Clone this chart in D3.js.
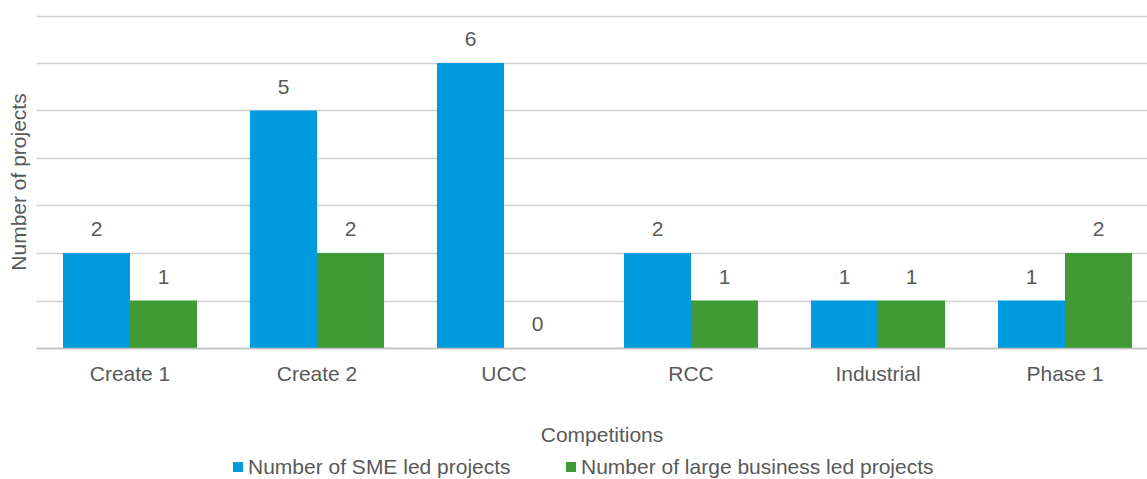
<!DOCTYPE html>
<html>
<head>
<meta charset="utf-8">
<script src="https://cdn.jsdelivr.net/npm/d3@7"></script>
<style>
  html, body { margin: 0; padding: 0; background: #fff; overflow: hidden; }
  svg { display: block; font-family: "Liberation Sans", Arial, sans-serif; }
</style>
</head>
<body>
<svg id="chart" width="1147" height="479"></svg>
<script>
// Projects per competition, split by lead organisation type
const categories = ["Create 1", "Create 2", "UCC", "RCC", "Industrial", "Phase 1"];
const smeLed = [2, 5, 6, 2, 1, 1];
const largeLed = [1, 2, 0, 1, 1, 2];
const seriesNames = ["Number of SME led projects", "Number of large business led projects"];
const seriesColors = ["#009ADE", "#3F9C35"];
const yTicks = [0, 1, 2, 3, 4, 5, 6, 7];

const svg = d3.select("#chart");
const textColor = "#595959";
const fontSize = 21;

// plot area runs a little past the right edge of the page
const plot = { left: 36.5, right: 1158.5, top: 15.5, bottom: 348 };

const x = d3.scaleBand()
  .domain(categories)
  .range([plot.left, plot.right]);

// the pair of bars takes ~72% of each category band, centred
const pairWidth = x.bandwidth() * 0.717;
const xInner = d3.scaleBand()
  .domain([0, 1])
  .range([(x.bandwidth() - pairWidth) / 2, (x.bandwidth() + pairWidth) / 2]);

const y = d3.scaleLinear().domain([0, 7]).range([plot.bottom, plot.top]);

// gridlines
svg.append("g")
  .selectAll("line")
  .data(yTicks)
  .join("line")
  .attr("x1", plot.left)
  .attr("x2", 1147)
  .attr("y1", d => Math.round(y(d)) + 0.5)
  .attr("y2", d => Math.round(y(d)) + 0.5)
  .attr("stroke", "#D0D0D0")
  .attr("stroke-width", 1.3);

const rows = categories.map((c, i) => ({ cat: c, vals: [smeLed[i], largeLed[i]] }));

const groups = svg.append("g")
  .selectAll("g")
  .data(rows)
  .join("g")
  .attr("transform", d => `translate(${x(d.cat)},0)`);

groups.selectAll("rect")
  .data(d => d.vals.map((v, s) => ({ v, s })))
  .join("rect")
  .attr("x", d => xInner(d.s))
  .attr("width", xInner.bandwidth())
  .attr("y", d => y(d.v))
  .attr("height", d => y(0) - y(d.v))
  .attr("fill", d => seriesColors[d.s]);

// value labels
groups.selectAll("text")
  .data(d => d.vals.map((v, s) => ({ v, s })))
  .join("text")
  .attr("x", d => xInner(d.s) + xInner.bandwidth() / 2)
  .attr("y", d => y(d.v) - 17)
  .attr("text-anchor", "middle")
  .attr("font-size", fontSize)
  .attr("fill", textColor)
  .text(d => d.v);

// baseline
svg.append("line")
  .attr("x1", plot.left).attr("x2", 1147)
  .attr("y1", y(0) + 0.5).attr("y2", y(0) + 0.5)
  .attr("stroke", "#BFBFBF").attr("stroke-width", 1.3);

// category labels
svg.append("g")
  .selectAll("text")
  .data(categories)
  .join("text")
  .attr("x", d => x(d) + x.bandwidth() / 2)
  .attr("y", 381)
  .attr("text-anchor", "middle")
  .attr("font-size", fontSize)
  .attr("fill", textColor)
  .text(d => d);

// axis titles
svg.append("text")
  .attr("x", 602)
  .attr("y", 442)
  .attr("text-anchor", "middle")
  .attr("font-size", fontSize)
  .attr("fill", textColor)
  .text("Competitions");

svg.append("text")
  .attr("transform", "translate(26,182) rotate(-90)")
  .attr("text-anchor", "middle")
  .attr("font-size", fontSize)
  .attr("fill", textColor)
  .text("Number of projects");

// legend
const legendX = [233, 566];
const legend = svg.append("g")
  .selectAll("g")
  .data(seriesNames)
  .join("g")
  .attr("transform", (d, i) => `translate(${legendX[i]},0)`);

legend.append("rect")
  .attr("x", 0).attr("y", 462)
  .attr("width", 10).attr("height", 10)
  .attr("fill", (d, i) => seriesColors[i]);

legend.append("text")
  .attr("x", 15)
  .attr("y", 474)
  .attr("font-size", fontSize)
  .attr("fill", textColor)
  .text(d => d);
</script>
</body>
</html>
